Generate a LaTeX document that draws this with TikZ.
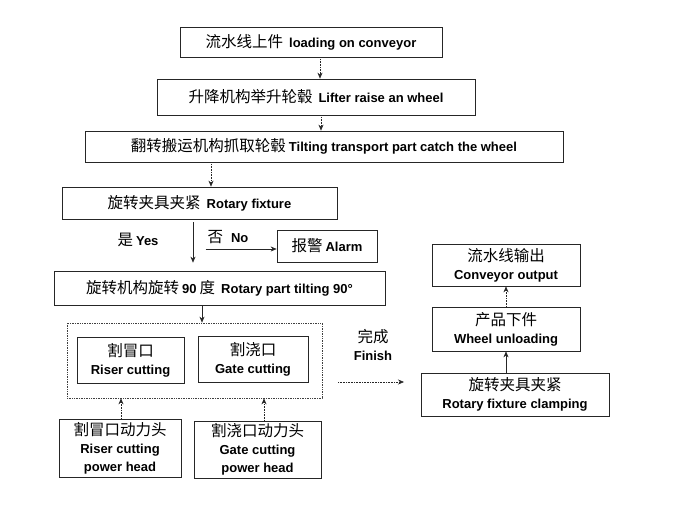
\documentclass[tikz,border=0pt]{standalone}
\usepackage{fontspec}
\setmainfont{Liberation Sans}
\newfontfamily\cjk{Noto Sans CJK SC}
\usetikzlibrary{arrows.meta}
\newcommand{\en}[1]{{\rmfamily\bfseries\fontsize{13}{18}\selectfont #1}}

\tikzset{
    box/.style={draw=black!85, line width=0.7pt, inner sep=0pt, align=center},
    grp/.style={draw=black!75, densely dotted, line width=0.7pt},
    arr/.style={-{Stealth[length=6pt,width=5pt]}, line width=0.6pt, draw=black!85},
    dotarr/.style={arr, densely dotted},
}

\begin{document}
\begin{tikzpicture}[x=1pt, y=-1pt, font=\cjk\fontsize{15.5}{18}\selectfont]
            \useasboundingbox (0, 0) rectangle (683, 520);

            % main line
            \node[box, minimum width=262pt, minimum height=30pt] (load) at (311, 42) {流水线上件\hspace{6pt}\en{loading on conveyor}};
            \node[box, minimum width=318pt, minimum height=36pt] (lift) at (316, 97) {升降机构举升轮毂\hspace{6pt}\en{Lifter raise an wheel}};
            \node[box, minimum width=478pt, minimum height=31pt] (tilt) at (324, 146.5) {翻转搬运机构抓取轮毂\hspace{3pt}\en{Tilting transport part catch the wheel}};
            \node[box, minimum width=275pt, minimum height=32pt] (fix) at (199.5, 203) {旋转夹具夹紧\hspace{6pt}\en{Rotary fixture}};
            \node[box, minimum width=100pt, minimum height=32pt] (alarm) at (327, 246) {报警\hspace{3pt}\en{Alarm}};
            \node[box, minimum width=331pt, minimum height=34pt] (rot) at (219.5, 288) {旋转机构旋转\hspace{3pt}\en{90}\hspace{3pt}度\hspace{6pt}\en{Rotary part tilting 90°}};

            \node at (138, 240) {是\hspace{3pt}\en{Yes}};
            \node at (228, 237) {否\hspace{8pt}\en{No}};

            % cutting
            \node[grp, minimum width=255pt, minimum height=75pt] (cut) at (194.5, 360.5) {};
            \node[box, minimum width=107pt, minimum height=46pt] (riser) at (130.5, 360) {割冒口\\\en{Riser cutting}};
            \node[box, minimum width=110pt, minimum height=46pt] (gate) at (253, 359) {割浇口\\\en{Gate cutting}};
            \node[box, minimum width=122pt, minimum height=58pt] (riserhead) at (120, 448) {割冒口动力头\\\en{Riser cutting}\\\en{power head}};
            \node[box, minimum width=127pt, minimum height=57pt] (gatehead) at (257.5, 449.5) {割浇口动力头\\\en{Gate cutting}\\\en{power head}};

            \node[align=center] (finish) at (373, 345) {完成\\\en{Finish}};
            \coordinate (done) at (338, 382);
            \coordinate (next) at (404, 382);

            % output
            \node[box, minimum width=148pt, minimum height=42pt] (conv) at (506, 265) {流水线输出\\\en{Conveyor output}};
            \node[box, minimum width=148pt, minimum height=44pt] (unload) at (506, 329) {产品下件\\\en{Wheel unloading}};
            \node[box, minimum width=188pt, minimum height=43pt] (clamp) at (515, 394.5) {旋转夹具夹紧\\\en{Rotary fixture clamping}};

            % arrows
            \draw[dotarr] ([xshift=9pt]load.south) -- ([xshift=9pt]load.south |- lift.north);
            \draw[dotarr] ([xshift=5pt]lift.south) -- ([xshift=5pt]lift.south |- tilt.north);
            \draw[dotarr] ([xshift=11.5pt]fix.north |- tilt.south) -- ([xshift=11.5pt]fix.north);
            \draw[arr, shorten <=3pt, shorten >=8pt] ([xshift=-6.5pt]fix.south) -- ([xshift=-6.5pt]fix.south |- rot.north);
            \draw[arr] (alarm.west |- 206, 249) ++(-71pt, 0) coordinate (nofrom) -- ([yshift=-3pt]alarm.west);
            \draw[arr] ([xshift=-17.5pt]rot.south) -- ([xshift=-17.5pt]rot.south |- cut.north);
            \draw[dotarr] (riserhead.north -| 121, 0) -- (cut.south -| 121, 0);
            \draw[dotarr] (gatehead.north -| 264, 0) -- (cut.south -| 264, 0);
            \draw[dotarr] (done) -- (next);
            \draw[arr] (clamp.north -| unload) -- (unload.south);
            \draw[dotarr] (unload.north) -- (conv.south);
        \end{tikzpicture}
\end{document}
